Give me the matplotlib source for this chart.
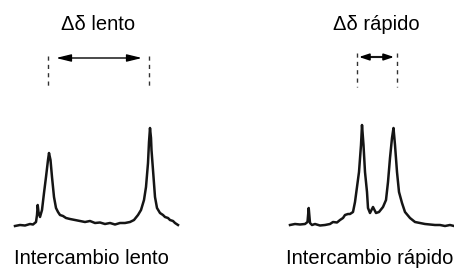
import matplotlib.pyplot as plt

plt.rcParams['font.family'] = ['Liberation Sans', 'DejaVu Sans']

# espectro de intercambio lento (x, y en px del dibujo)
lento_x = [15, 20, 25, 30, 33, 36, 37, 37.7, 38.5, 40, 42, 44, 46, 48, 49, 50.5, 52, 54, 56,
           58, 60, 63, 66, 70, 75, 80, 85, 90, 95, 100, 105, 110, 115, 120, 125, 130, 134,
           138, 141, 144, 146, 148, 149, 150, 151, 151.5, 153, 155, 157, 160, 163, 165, 168,
           170, 173, 175, 178]
lento_y = [226, 225, 225.5, 224, 224.5, 222, 215, 205, 212, 217, 210, 193, 177, 160, 153, 160,
           177, 197, 208, 212, 215, 216, 218, 219, 220, 221, 222, 221, 223, 222.5, 224, 223,
           224.5, 223, 223, 222, 220, 215, 210, 200, 187, 163, 142, 128, 138, 150, 170, 197,
           208, 213, 215, 217, 218, 220, 221, 223, 225]

# espectro de intercambio rápido
rapido_x = [290, 295, 300, 305, 307.5, 308.7, 310, 312, 315, 320, 325, 330, 333, 337, 340, 343,
            345, 348, 350, 353, 355, 357, 359, 361, 362, 363.5, 365, 367, 368, 370, 373, 376,
            379, 383, 386, 388, 390, 392, 393.5, 395, 397, 399, 402, 405, 410, 415, 420, 425,
            430, 435, 440, 445, 450, 454]
rapido_y = [225, 224, 224.5, 224, 222, 208, 223, 225, 224, 225.5, 225, 224, 222, 222.5, 220, 218,
            215, 214, 214, 212, 202, 187, 172, 145, 125, 145, 172, 192, 208, 213, 207, 213,
            212, 207, 200, 182, 158, 138, 128, 145, 172, 192, 203, 212, 218, 222, 223, 224,
            224.5, 225, 225, 226, 225, 226]

# posiciones de las líneas punteadas
lento_dash = [48, 149]
rapido_dash = [357, 397]

fig = plt.figure(figsize=(4.54, 2.71), dpi=100)
ax = fig.add_axes([0, 0, 1, 1])
ax.set_xlim(0, 454)
ax.set_ylim(271, 0)
ax.axis('off')

ax.plot(lento_x, lento_y, color='#151515', lw=1.8, solid_joinstyle='round')
ax.plot(rapido_x, rapido_y, color='#151515', lw=1.8, solid_joinstyle='round')

for xd in lento_dash:
    ax.plot([xd, xd], [56, 89], color='#333333', lw=1, linestyle=(0, (3, 3)))
for xd in rapido_dash:
    ax.plot([xd, xd], [53, 87], color='#333333', lw=1, linestyle=(0, (3, 3)))

ax.annotate('', xy=(lento_dash[0] + 8, 58), xytext=(lento_dash[1] - 7, 58),
            arrowprops=dict(arrowstyle='<|-|>,head_length=0.9,head_width=0.22',
                            color='black', lw=1, shrinkA=0, shrinkB=0))
ax.annotate('', xy=(rapido_dash[0] + 2, 57), xytext=(rapido_dash[1] - 3, 57),
            arrowprops=dict(arrowstyle='<|-|>,head_length=0.6,head_width=0.2',
                            color='black', lw=1.2, shrinkA=0, shrinkB=0))
# tramo central gris
ax.plot([rapido_dash[0] + 11, rapido_dash[1] - 12], [57, 57], color='#888888', lw=1.6,
        solid_capstyle='butt')

ax.text(98, 24, 'Δδ lento', ha='center', va='center', fontsize=14.5)
ax.text(376, 24, 'Δδ rápido', ha='center', va='center', fontsize=14.5)
ax.text(91, 259, 'Intercambio lento', ha='center', va='center', fontsize=14.5)
ax.text(370, 259, 'Intercambio rápido', ha='center', va='center', fontsize=14.5)

fig.savefig('out.png', dpi=100)
